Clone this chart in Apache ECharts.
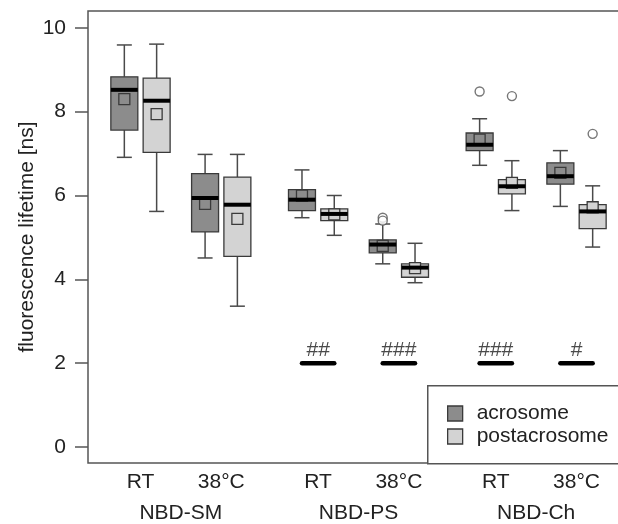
<!DOCTYPE html>
<html>
<head>
<meta charset="utf-8">
<script src="https://cdn.jsdelivr.net/npm/echarts@6/dist/echarts.min.js"></script>
<style>
  html, body { margin: 0; padding: 0; background: #fff; }
  #chart { width: 618px; height: 524px; }
</style>
</head>
<body>
<div id="chart"></div>
<script>
// conditions on the x axis and the probe groups under them
const conditions = ['RT', '38°C', 'RT', '38°C', 'RT', '38°C'];
const probes = ['NBD-SM', 'NBD-PS', 'NBD-Ch'];
const yTicks = [0, 2, 4, 6, 8, 10];

// box stats per condition: [lower whisker, Q1, median, Q3, upper whisker]
const acrosomeBoxes = [
  [6.91, 7.56, 8.52, 8.83, 9.59],
  [4.51, 5.13, 5.94, 6.52, 6.98],
  [5.47, 5.64, 5.90, 6.14, 6.61],
  [4.37, 4.63, 4.83, 4.94, 5.32],
  [6.72, 7.07, 7.21, 7.49, 7.83],
  [5.74, 6.27, 6.46, 6.78, 7.07]
];
const acrosomeMeans = [8.30, 5.80, 6.00, 4.80, 7.33, 6.54];

const postacrosomeBoxes = [
  [5.62, 7.03, 8.26, 8.80, 9.61],
  [3.36, 4.55, 5.78, 6.44, 6.98],
  [5.05, 5.40, 5.56, 5.68, 6.00],
  [3.92, 4.05, 4.28, 4.37, 4.86],
  [5.64, 6.04, 6.22, 6.38, 6.83],
  [4.77, 5.21, 5.62, 5.78, 6.23]
];
const postacrosomeMeans = [7.94, 5.44, 5.55, 4.27, 6.30, 5.72];

// outliers: [condition index, value]
const acrosomeOutliers = [[3, 5.47], [3, 5.40], [4, 8.48]];
const postacrosomeOutliers = [[4, 8.37], [5, 7.47]];

// significance marks drawn at y = 2
const sigLabels = ['', '', '##', '###', '###', '#'];
const sigLevel = 2;

// ---- layout helpers ----
// small extra gap between the probe groups
const catPos = conditions.map((c, i) => i + 1 + 0.2 * Math.floor(i / 2));
const groupPos = probes.map((p, g) => (catPos[2 * g] + catPos[2 * g + 1]) / 2);
const OFF = 0.2;      // acrosome left, postacrosome right
const BOXW = 0.334;   // box width in axis units

const textColor = '#222';
const lineColor = '#555';
const FONT = 'Liberation Sans, Arial, sans-serif';

function boxRows(boxes, means, side) {
  return boxes.map((b, i) => [catPos[i] + side * OFF].concat(b, [means[i]]));
}

function makeRenderBox(fill) {
  return function (params, api) {
    const x = api.value(0);
    const low = api.coord([x, api.value(1)]);
    const q1 = api.coord([x, api.value(2)]);
    const med = api.coord([x, api.value(3)]);
    const q3 = api.coord([x, api.value(4)]);
    const high = api.coord([x, api.value(5)]);
    const mean = api.coord([x, api.value(6)]);
    const hw = api.size([BOXW, 0])[0] / 2;
    const cap = 7.5;
    const ms = 5.5;
    const cx = low[0];
    const wStyle = { stroke: '#4a4a4a', lineWidth: 1.5 };
    return {
      type: 'group',
      children: [
        { type: 'line', shape: { x1: cx, y1: high[1], x2: cx, y2: q3[1] }, style: wStyle },
        { type: 'line', shape: { x1: cx, y1: q1[1], x2: cx, y2: low[1] }, style: wStyle },
        { type: 'line', shape: { x1: cx - cap, y1: high[1], x2: cx + cap, y2: high[1] }, style: wStyle },
        { type: 'line', shape: { x1: cx - cap, y1: low[1], x2: cx + cap, y2: low[1] }, style: wStyle },
        { type: 'rect', shape: { x: cx - hw, y: q3[1], width: hw * 2, height: q1[1] - q3[1] },
          style: { fill: fill, stroke: '#3a3a3a', lineWidth: 1.3 } },
        { type: 'rect', shape: { x: cx - ms, y: mean[1] - ms, width: ms * 2, height: ms * 2 },
          style: { fill: fill, stroke: '#3a3a3a', lineWidth: 1.3 } },
        { type: 'line', shape: { x1: cx - hw, y1: med[1], x2: cx + hw, y2: med[1] },
          style: { stroke: '#000', lineWidth: 4 } }
      ]
    };
  };
}

const acroColor = '#8c8c8c';
const postColor = '#d3d3d3';

const sigData = [];
sigLabels.forEach((s, i) => { if (s) sigData.push([catPos[i], sigLevel, i]); });

const chart = echarts.init(document.getElementById('chart'));
chart.setOption({
  animation: false,
  backgroundColor: '#fff',
  textStyle: { fontFamily: FONT },
  grid: {
    left: 88, top: 11, width: 541, height: 452,
    outerBoundsMode: 'none', containLabel: false,
    show: true, borderColor: lineColor, borderWidth: 1.5
  },
  // frame around the legend, open to the right like the plot box
  graphic: [{
    type: 'rect', left: 427, top: 385, z: 10,
    shape: { width: 220, height: 78 },
    style: { fill: '#fff', stroke: lineColor, lineWidth: 1.5 }
  }],
  legend: {
    orient: 'vertical',
    left: 427,
    top: 385,
    padding: [18, 0, 0, 20],
    itemGap: 2,
    itemWidth: 15,
    itemHeight: 15,
    z: 20,
    textStyle: { fontSize: 21, color: textColor, padding: [0, 0, 0, 9] },
    data: [
      { name: 'acrosome', icon: 'rect', itemStyle: { color: acroColor, borderColor: '#3a3a3a', borderWidth: 1.3 } },
      { name: 'postacrosome', icon: 'rect', itemStyle: { color: postColor, borderColor: '#3a3a3a', borderWidth: 1.3 } }
    ]
  },
  xAxis: [{
    type: 'value', min: 0.35, max: 7.05,
    axisLine: { show: false, onZero: false },
    axisTick: { show: false },
    splitLine: { show: false },
    axisLabel: {
      customValues: catPos,
      margin: 9,
      fontSize: 21,
      color: textColor,
      formatter: v => conditions[catPos.findIndex(p => Math.abs(p - v) < 1e-6)] || ''
    }
  }, {
    type: 'value', min: 0.35, max: 7.05, position: 'bottom', offset: 31,
    axisLine: { show: false, onZero: false },
    axisTick: { show: false },
    splitLine: { show: false },
    axisLabel: {
      customValues: groupPos,
      margin: 9,
      fontSize: 21,
      color: textColor,
      formatter: v => probes[groupPos.findIndex(p => Math.abs(p - v) < 1e-6)] || ''
    }
  }],
  yAxis: {
    type: 'value', min: -0.38, max: 10.4,
    name: 'fluorescence lifetime [ns]',
    nameLocation: 'middle',
    nameGap: 50,
    nameMoveOverlap: false,
    nameTextStyle: { fontSize: 21, color: textColor },
    axisLine: { show: false },
    axisTick: { show: true, customValues: yTicks, length: 13, lineStyle: { color: lineColor, width: 1.5 } },
    axisLabel: { customValues: yTicks, margin: 22, fontSize: 21, color: textColor },
    splitLine: { show: false }
  },
  series: [{
    name: 'acrosome',
    type: 'custom',
    renderItem: makeRenderBox(acroColor),
    itemStyle: { color: acroColor },
    encode: { x: 0, y: [1, 2, 3, 4, 5] },
    data: boxRows(acrosomeBoxes, acrosomeMeans, -1),
    z: 3
  }, {
    name: 'postacrosome',
    type: 'custom',
    renderItem: makeRenderBox(postColor),
    itemStyle: { color: postColor },
    encode: { x: 0, y: [1, 2, 3, 4, 5] },
    data: boxRows(postacrosomeBoxes, postacrosomeMeans, 1),
    z: 3
  }, {
    type: 'scatter',
    symbol: 'circle',
    symbolSize: 9,
    itemStyle: { color: '#fff', borderColor: '#555', borderWidth: 1.4 },
    data: acrosomeOutliers.map(o => [catPos[o[0]] - OFF, o[1]])
      .concat(postacrosomeOutliers.map(o => [catPos[o[0]] + OFF, o[1]])),
    z: 4
  }, {
    type: 'custom',
    renderItem: function (params, api) {
      const x = api.value(0);
      const a = api.coord([x - OFF, api.value(1)]);
      const b = api.coord([x + OFF, api.value(1)]);
      const c = api.coord([x, api.value(1)]);
      return {
        type: 'group',
        children: [
          { type: 'line', shape: { x1: a[0], y1: a[1], x2: b[0], y2: b[1] },
            style: { stroke: '#000', lineWidth: 4.5, lineCap: 'round' } },
          { type: 'text', x: c[0], y: c[1] - 3,
            style: { text: sigLabels[api.value(2)], fill: '#4a4a4a', fontSize: 21,
              fontFamily: FONT, align: 'center', verticalAlign: 'bottom' } }
        ]
      };
    },
    data: sigData,
    z: 3
  }]
});
</script>
</body>
</html>
